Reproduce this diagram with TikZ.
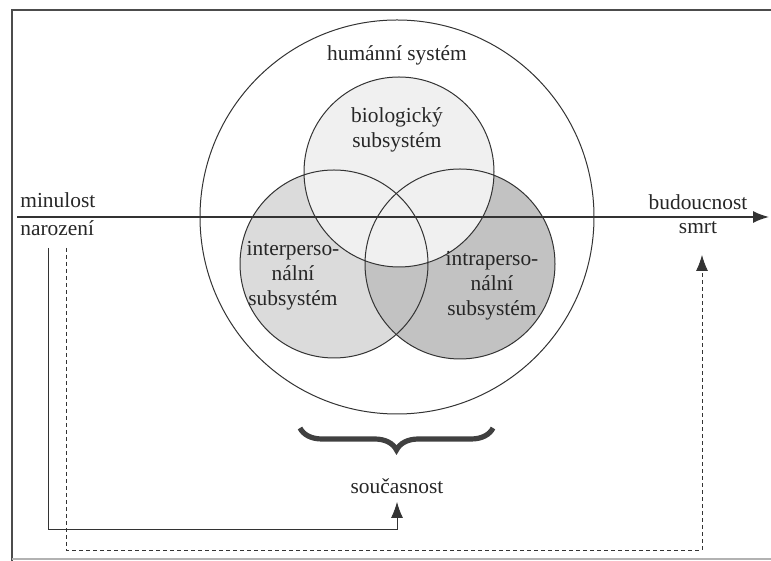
\documentclass[tikz,border=0pt]{standalone}
\usepackage{fontspec}
\setmainfont{Liberation Serif}
\usetikzlibrary{arrows.meta,decorations.pathreplacing}
\tikzset{
  kreis/.style={draw=black!80, line width=0.5pt},
  pfeil/.style={-{Latex[length=8pt,width=6pt]}, black!80},
  schrift/.style={font=\fontsize{10.7}{12.4}\selectfont, text=black!85, align=center, inner sep=1pt},
}
\begin{document}
\begin{tikzpicture}[x=0.5pt,y=0.5pt]
    \useasboundingbox (0,0) rectangle (771,561);
    % Rahmen
    \draw[black!70, line width=1pt] (771,551) -- (12,551) -- (12,0);
    \draw[black!30, line width=0.6pt] (12,2) -- (771,2);
    % Flaechen der Subsysteme
    \fill[gray!28] (334,297) circle (94);
    \fill[gray!48] (460,297) circle (95);
    \fill[gray!12] (399,389) circle (95);
    \draw[kreis] (397,344) circle (197);
    \draw[kreis] (334,297) circle (94) (460,297) circle (95) (399,389) circle (95);
    % Beschriftung
    \node[schrift] (human) at (397,506) {humánní systém};
    \node[schrift] (bio) at (397,431) {biologický\\subsystém};
    \node[schrift] (inter) at (293,285) {interperso-\\nální\\subsystém};
    \node[schrift] (intra) at (492,275) {intraperso-\\nální\\subsystém};
    \node[schrift, anchor=west] (minulost) at (18,361) {minulost};
    \node[schrift, anchor=west] (narozeni) at (18,333) {narození};
    \node[schrift] (budoucnost) at (698,359) {budoucnost};
    \node[schrift] (smrt) at (698,333) {smrt};
    \node[schrift] (soucasnost) at (397,75) {současnost};
    % Zeitachse
    \coordinate (start) at (17,344);
    \coordinate (ende) at (769,344);
    \draw[pfeil, line width=0.8pt] (start) -- (ende);
    % Klammer
    \draw[decorate, decoration={brace, amplitude=11pt}, line width=2.6pt, black!75] (493,133) -- (300,133);
    % Verbindungen
    \coordinate (a) at (48,313);
    \coordinate (b) at (66,313);
    \coordinate (c) at (702,306);
    \draw[pfeil, shorten >=3pt] (a) -- (48,32) -| (soucasnost);
    \draw[pfeil, dash pattern=on 2pt off 1.5pt] (b) -- (66,11) -| (c);
\end{tikzpicture}
\end{document}
